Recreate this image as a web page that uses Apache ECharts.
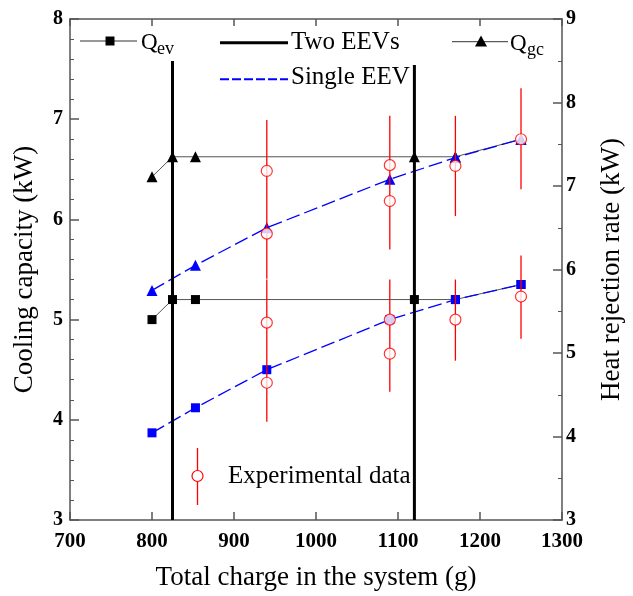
<!DOCTYPE html>
<html><head><meta charset="utf-8">
<script src="https://cdn.jsdelivr.net/npm/echarts@6/dist/echarts.min.js"></script>
<style>html,body{margin:0;padding:0;background:#fff}#c{width:633px;height:596px}</style>
</head><body><div id="c"></div>
<script>
// Two EEVs (simulation)
const xTwo = [800, 825, 853, 1120, 1170, 1250];
const qevTwo = [5.0, 5.2, 5.2, 5.2, 5.2, 5.35];
const qgcTwo = [7.11, 7.35, 7.35, 7.35, 7.35, 7.56];
// Single EEV (simulation)
const xSingle = [800, 853, 940, 1090, 1170, 1250];
const qevSingle = [3.87, 4.12, 4.5, 5.0, 5.2, 5.35];
const qgcSingle = [5.75, 6.05, 6.5, 7.08, 7.34, 7.56];
// Experimental data
const expQevX = [940, 940, 1090, 1090, 1170, 1250];
const expQev = [4.97, 4.37, 5.00, 4.66, 5.00, 5.23];
const expQgcX = [940, 940, 1090, 1090, 1170, 1250];
const expQgc = [7.18, 6.43, 7.25, 6.82, 7.24, 7.56];
// Error bars
const errQevX = [940, 1090, 1170, 1250];
const errQevLo = [3.98, 4.28, 4.59, 4.81];
const errQevHi = [5.40, 5.40, 5.40, 5.64];
const errQgcX = [940, 1090, 1170, 1250];
const errQgcLo = [5.89, 6.24, 6.64, 6.96];
const errQgcHi = [7.79, 7.84, 7.84, 8.17];
// EEV boundary lines
const eevX = [825, 1120];
const eevBottom = [3, 3];
const eevTop = [7.58, 7.54];
// Ticks
const xTicks = [700, 800, 900, 1000, 1100, 1200, 1300];
const yLeftTicks = [3, 4, 5, 6, 7, 8];
const yRightTicks = [3, 4, 5, 6, 7, 8, 9];

const zip = (a, b) => a.map((v, i) => [v, b[i]]);
const zip3 = (a, b, c) => a.map((v, i) => [v, b[i], c[i]]);
const FONT = 'Liberation Serif';
const RED = '#ff0000';

function vline(color, width) {
  return function (params, api) {
    const p1 = api.coord([api.value(0), api.value(1)]);
    const p2 = api.coord([api.value(0), api.value(2)]);
    return { type: 'line', shape: { x1: p1[0], y1: p1[1], x2: p2[0], y2: p2[1] },
      style: { stroke: color, lineWidth: width, fill: null } };
  };
}

const axisLineStyle = { color: '#555', width: 1.5 };
const chart = echarts.init(document.getElementById('c'), null, { renderer: 'canvas' });
const labelStyle = { fontFamily: FONT, fontWeight: 'bold', fontSize: 21, color: '#000' };

chart.setOption({
  animation: false,
  grid: { left: 70, right: 62, top: 19, bottom: 76 },
  xAxis: [
    { type: 'value', min: xTicks[0], max: xTicks[xTicks.length - 1], interval: 100, position: 'bottom',
      axisLine: { lineStyle: axisLineStyle }, axisTick: { inside: true, length: 8, lineStyle: axisLineStyle },
      axisLabel: Object.assign({ margin: 11, formatter: v => String(v) }, labelStyle), splitLine: { show: false },
      name: 'Total charge in the system (g)', nameLocation: 'middle', nameGap: 44,
      nameTextStyle: { fontFamily: FONT, fontSize: 27, color: '#000' } },
    { type: 'value', min: xTicks[0], max: xTicks[xTicks.length - 1], interval: 100, position: 'top',
      axisLine: { lineStyle: axisLineStyle }, axisTick: { inside: true, length: 7, lineStyle: axisLineStyle },
      axisLabel: { show: false }, splitLine: { show: false } }
  ],
  yAxis: [
    { type: 'value', min: yLeftTicks[0], max: yLeftTicks[yLeftTicks.length - 1], interval: 1, position: 'left',
      axisLine: { show: true, lineStyle: axisLineStyle }, axisTick: { inside: true, length: 9, lineStyle: axisLineStyle },
      minorTick: { show: true, splitNumber: 5, length: 4, lineStyle: { color: '#555', width: 1 } },
      axisLabel: Object.assign({ margin: 7 }, labelStyle, { fontSize: 20 }), splitLine: { show: false },
      name: 'Cooling capacity (kW)', nameLocation: 'middle', nameGap: 32, nameRotate: 90,
      nameTextStyle: { fontFamily: FONT, fontSize: 27, color: '#000' } },
    { type: 'value', min: yRightTicks[0], max: yRightTicks[yRightTicks.length - 1], interval: 1, position: 'right',
      axisLine: { show: true, lineStyle: axisLineStyle }, axisTick: { inside: true, length: 9, lineStyle: axisLineStyle },
      minorTick: { show: true, splitNumber: 2, length: 4, lineStyle: { color: '#555', width: 1 } },
      axisLabel: Object.assign({ margin: 4 }, labelStyle, { fontSize: 20 }), splitLine: { show: false },
      name: 'Heat rejection rate (kW)', nameLocation: 'middle', nameGap: 36, nameRotate: 90,
      nameTextStyle: { fontFamily: FONT, fontSize: 27, color: '#000' } }
  ],
  series: [
    { name: 'Qev Two EEVs', type: 'line', xAxisIndex: 0, yAxisIndex: 0, data: zip(xTwo, qevTwo),
      symbol: 'rect', symbolSize: 9, z: 3, lineStyle: { color: '#555', width: 1 }, itemStyle: { color: '#000' } },
    { name: 'Qgc Two EEVs', type: 'line', xAxisIndex: 0, yAxisIndex: 1, data: zip(xTwo, qgcTwo),
      symbol: 'triangle', symbolSize: 11, z: 3, lineStyle: { color: '#555', width: 1 }, itemStyle: { color: '#000' } },
    { name: 'Qev Single EEV', type: 'line', xAxisIndex: 0, yAxisIndex: 0, data: zip(xSingle, qevSingle),
      symbol: 'rect', symbolSize: 9, z: 4, lineStyle: { color: '#0000ff', width: 1.3, type: [14, 5] }, itemStyle: { color: '#0000ff' } },
    { name: 'Qgc Single EEV', type: 'line', xAxisIndex: 0, yAxisIndex: 1, data: zip(xSingle, qgcSingle),
      symbol: 'triangle', symbolSize: 11, z: 4, lineStyle: { color: '#0000ff', width: 1.3, type: [14, 5] }, itemStyle: { color: '#0000ff' } },
    { name: 'Err Qev', type: 'custom', xAxisIndex: 0, yAxisIndex: 0, z: 5, data: zip3(errQevX, errQevLo, errQevHi),
      itemStyle: { color: RED }, encode: { x: 0, y: [1, 2] }, renderItem: vline(RED, 1.3) },
    { name: 'Err Qgc', type: 'custom', xAxisIndex: 0, yAxisIndex: 1, z: 5, data: zip3(errQgcX, errQgcLo, errQgcHi),
      itemStyle: { color: RED }, encode: { x: 0, y: [1, 2] }, renderItem: vline(RED, 1.3) },
    { name: 'Exp Qev', type: 'scatter', xAxisIndex: 0, yAxisIndex: 0, z: 6, data: zip(expQevX, expQev),
      symbol: 'circle', symbolSize: 11, itemStyle: { color: '#fff', borderColor: RED, borderWidth: 1.2 } },
    { name: 'Exp Qgc', type: 'scatter', xAxisIndex: 0, yAxisIndex: 1, z: 6, data: zip(expQgcX, expQgc),
      symbol: 'circle', symbolSize: 11, itemStyle: { color: '#fff', borderColor: RED, borderWidth: 1.2 } },
    { name: 'EEV lines', type: 'custom', xAxisIndex: 0, yAxisIndex: 0, z: 7, data: zip3(eevX, eevBottom, eevTop),
      itemStyle: { color: '#000' }, encode: { x: 0, y: [1, 2] }, renderItem: vline('#000', 3) }
  ],
  graphic: [
    // Qev legend
    { type: 'line', shape: { x1: 80, y1: 41, x2: 137, y2: 41 }, style: { stroke: '#333', lineWidth: 1 } },
    { type: 'rect', shape: { x: 105.5, y: 36.5, width: 9, height: 9 }, style: { fill: '#000' } },
    { type: 'text', x: 141, y: 43, style: { text: 'Q', font: '23px "Liberation Serif"', fill: '#000', textVerticalAlign: 'middle' } },
    { type: 'text', x: 157, y: 49, style: { text: 'ev', font: '18px "Liberation Serif"', fill: '#000', textVerticalAlign: 'middle' } },
    // Two EEVs legend
    { type: 'line', shape: { x1: 220, y1: 42.7, x2: 288, y2: 42.7 }, style: { stroke: '#000', lineWidth: 3 } },
    { type: 'text', x: 291, y: 42, style: { text: 'Two EEVs', font: '25px "Liberation Serif"', fill: '#000', textVerticalAlign: 'middle' } },
    // Single EEV legend
    { type: 'line', shape: { x1: 220, y1: 79.3, x2: 288, y2: 79.3 }, style: { stroke: '#0000ff', lineWidth: 2, lineDash: [9, 3] } },
    { type: 'text', x: 291, y: 77, style: { text: 'Single EEV', font: '25px "Liberation Serif"', fill: '#000', textVerticalAlign: 'middle' } },
    // Qgc legend
    { type: 'line', shape: { x1: 452, y1: 41.7, x2: 508, y2: 41.7 }, style: { stroke: '#333', lineWidth: 1 } },
    { type: 'polygon', shape: { points: [[481, 35.5], [475, 46.5], [487, 46.5]] }, style: { fill: '#000' } },
    { type: 'text', x: 510, y: 44, style: { text: 'Q', font: '23px "Liberation Serif"', fill: '#000', textVerticalAlign: 'middle' } },
    { type: 'text', x: 527, y: 50, style: { text: 'gc', font: '18px "Liberation Serif"', fill: '#000', textVerticalAlign: 'middle' } },
    // Experimental data legend
    { type: 'line', shape: { x1: 197.5, y1: 448, x2: 197.5, y2: 505 }, style: { stroke: RED, lineWidth: 1.3 } },
    { type: 'circle', shape: { cx: 197.5, cy: 476, r: 5.5 }, style: { fill: '#fff', stroke: RED, lineWidth: 1.2 } },
    { type: 'text', x: 228, y: 476, style: { text: 'Experimental data', font: '25px "Liberation Serif"', fill: '#000', textVerticalAlign: 'middle' } }
  ]
});
</script>
</body></html>
